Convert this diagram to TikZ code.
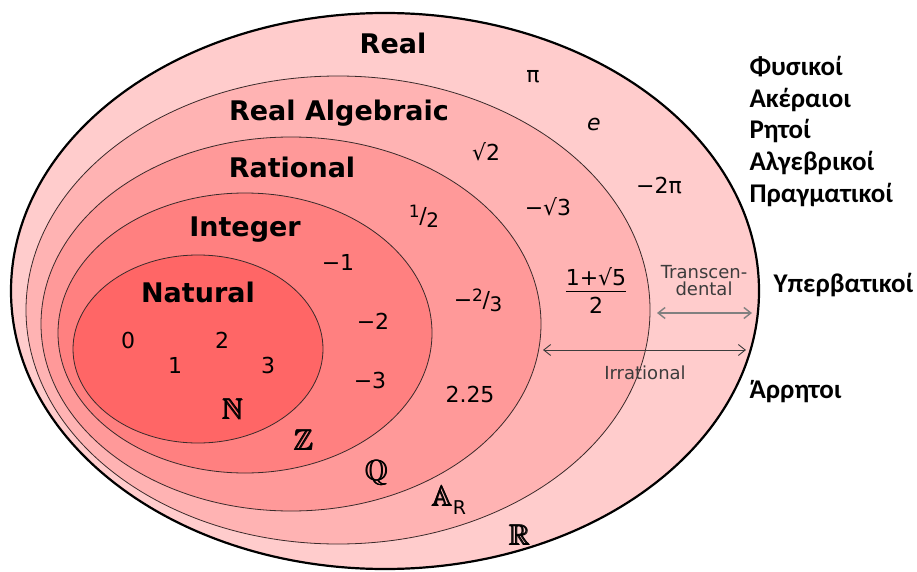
\documentclass[tikz,border=0pt]{standalone}
\usepackage{amsmath,amssymb}
\usepackage{fontspec}
\setmainfont{DejaVu Sans}
\newfontfamily\greekfont{Carlito}
\usetikzlibrary{arrows.meta}

\definecolor{realc}{HTML}{FFCCCC}
\definecolor{algc}{HTML}{FFB3B3}
\definecolor{ratc}{HTML}{FF9999}
\definecolor{intc}{HTML}{FF8080}
\definecolor{natc}{HTML}{FF6666}
\definecolor{ringc}{HTML}{3A2A2A}
\definecolor{notec}{HTML}{3C3C3C}

\newcommand\slashfrac[2]{\raisebox{.5ex}{\fontsize{17}{17}\selectfont#1}\kern-.02em/\kern-.02em\raisebox{-.35ex}{\fontsize{20}{20}\selectfont#2}}

\begin{document}
\begin{tikzpicture}[x=1pt,y=-1pt,
  title/.style={font=\fontsize{27}{30}\selectfont\bfseries},
  num/.style={font=\fontsize{22}{24}\selectfont},
  bbset/.style={font=\fontsize{29}{32}\selectfont},
  note/.style={font=\fontsize{18}{20}\selectfont,text=notec,align=center},
  greek/.style={font=\fontsize{27}{30}\selectfont\greekfont\bfseries,anchor=west},
  span/.style={{Straight Barb[length=7pt,width=11pt]}-{Straight Barb[length=7pt,width=11pt]}}]
\useasboundingbox (0,0) rectangle (917,572);
% nested sets
\foreach \cx/\cy/\rx/\ry/\col in {385/291/374/278/realc,338/310/312/234/algc,291/324/250/187/ratc,245/333/187/140/intc,198/349/125/94/natc}
  \filldraw[fill=\col,draw=ringc,line width=.8pt] (\cx,\cy) ellipse [x radius=\rx,y radius=\ry];
\draw[line width=2.2pt] (385,291) ellipse [x radius=374,y radius=278];
% set names
\node[title] (real) at (393,43) {Real}; \node[title] (alg) at (339,113) {Real Algebraic};
\node[title] (rat) at (292,167) {Rational}; \node[title] (int) at (245,230) {Integer};
\node[title] (nat) at (198,292) {Natural};
% members
\node[num] (pi) at (533,77) {π}; \node[num] (e) at (594,124) {\itshape e};
\node[num] (sq2) at (486,152) {√2}; \node[num] (m2pi) at (659,186) {−2π};
\node[num] (half) at (424,216) {\slashfrac{1}{2}}; \node[num] (msq3) at (548,207) {−√3};
\node[num] (m1) at (338,262) {−1}; \node[num] (m23) at (478,300) {−\slashfrac{2}{3}};
\node[num] (m2) at (373,321) {−2}; \node[num] (m3) at (370,380) {−3};
\node[num] (d225) at (470,394) {2.25};
\node[num] (phi) at (596,294) {\arrayrulewidth=1.3pt\begin{tabular}{@{}c@{}}1+√5\\[-2pt]\hline\rule{0pt}{21pt}2\end{tabular}};
\node[num] (n0) at (128,340) {0}; \node[num] (n1) at (175,365) {1};
\node[num] (n2) at (222,340) {2}; \node[num] (n3) at (268,365) {3};
\node[bbset] (N) at (233,409) {$\pmb{\mathbb{N}}$}; \node[bbset] (Z) at (304,440) {$\pmb{\mathbb{Z}}$};
\node[bbset] (Q) at (377,473) {$\pmb{\mathbb{Q}}$};
\node[bbset] (A) at (449,500) {$\pmb{\mathbb{A}}$\raisebox{-.5ex}{\fontsize{19}{19}\selectfont R}};
\node[bbset] (R) at (520,535) {$\pmb{\mathbb{R}}$};
% ranges
\coordinate (tl) at (657,313); \coordinate (tr) at (752,313);
\coordinate (il) at (543,350); \coordinate (ir) at (746,350);
\draw[span,draw=gray,line width=1.4pt] (tl) -- (tr); \draw[span,draw=notec,line width=.9pt] (il) -- (ir);
\node[note] (trans) at (704,281) {Transcen-\\[-3pt]dental}; \node[note] (irr) at (645,373) {Irrational};
% greek names
\node[greek] (g1) at (746,67) {Φυσικοί}; \node[greek] (g2) at (746,100) {Ακέραιοι};
\node[greek] (g3) at (746,131) {Ρητοί}; \node[greek] (g4) at (746,163) {Αλγεβρικοί};
\node[greek] (g5) at (746,195) {Πραγματικοί}; \node[greek] (g6) at (770,285) {Υπερβατικοί};
\node[greek] (g7) at (746,392) {Άρρητοι};
\end{tikzpicture}
\end{document}
